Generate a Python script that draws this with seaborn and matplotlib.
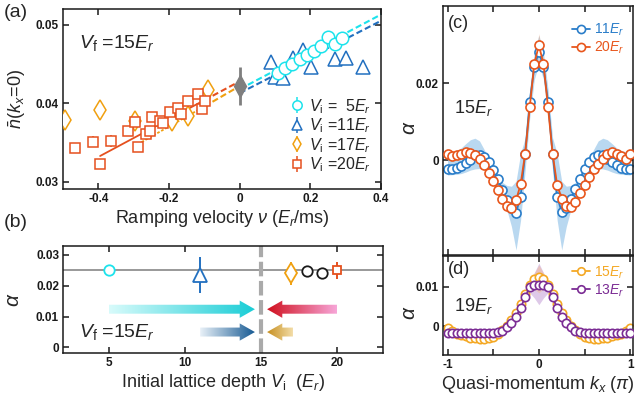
import numpy as np
import pandas as pd
import seaborn as sns
import matplotlib
matplotlib.use("Agg")
import matplotlib.pyplot as plt
from matplotlib.patches import Polygon
from matplotlib.colors import LinearSegmentedColormap

# ---------------- data ----------------
# (a) occupation at k=0 vs ramping velocity
v5 = [0.109, 0.127, 0.149, 0.170, 0.190, 0.210, 0.231, 0.250, 0.270, 0.290]
n5 = [0.0439, 0.0445, 0.0450, 0.0457, 0.0462, 0.0467, 0.0473, 0.0484, 0.0475, 0.0483]
e5 = [0.0002] * 10
v11 = [0.090, 0.099, 0.123, 0.151, 0.179, 0.201, 0.269, 0.302, 0.349]
n11 = [0.0453, 0.0434, 0.0432, 0.0458, 0.0468, 0.0446, 0.0457, 0.0458, 0.0446]
e11 = [0.0003] * 9
v17 = [-0.494, -0.395, -0.296, -0.193, -0.146, -0.089]
n17 = [0.0379, 0.0391, 0.0377, 0.0378, 0.0384, 0.0417]
e17 = [0.0003] * 6
v20 = [-0.466, -0.414, -0.395, -0.365, -0.315, -0.295, -0.287, -0.266, -0.254, -0.247,
       -0.226, -0.216, -0.198, -0.176, -0.167, -0.146, -0.118, -0.108, -0.097]
n20 = [0.0343, 0.0351, 0.0323, 0.0352, 0.0365, 0.0376, 0.0344, 0.0361, 0.0365, 0.0383,
       0.0378, 0.0375, 0.0389, 0.0394, 0.0386, 0.0403, 0.0412, 0.0393, 0.0403]
e20 = [0.0003, 0.0007, 0.0006, 0.0008, 0.0003, 0.0003, 0.0003, 0.0003, 0.0003, 0.0003,
       0.0003, 0.0003, 0.0003, 0.0003, 0.0003, 0.0003, 0.0003, 0.0003, 0.0003]
v_zero, n_zero, e_zero = [0.0], [0.0422], [0.0024]

# fitted lines (solid part, dashed extrapolation)
fit20_v, fit20_n = [-0.395, -0.10], [0.0333, 0.0404]
fit20d_v, fit20d_n = [-0.10, 0.0], [0.0404, 0.0428]
fit17_v, fit17_n = [-0.30, -0.10], [0.0345, 0.0396]
fit17d_v, fit17d_n = [-0.10, 0.0], [0.0396, 0.0422]
fit5_v, fit5_n = [0.0, 0.40], [0.0418, 0.0513]
fit11_v, fit11_n = [0.0, 0.40], [0.0413, 0.0505]

# (b) alpha vs initial lattice depth
vi_cyan, a_cyan = [5], [0.0250]
vi_tri, a_tri, ea_tri = [11], [0.0236], [0.0058]
vi_dia, a_dia, ea_dia = [17], [0.0240], [0.0038]
vi_blk, a_blk = [18, 19], [0.0248, 0.0240]
vi_sq, a_sq, ea_sq = [20], [0.0250], [0.0028]
alpha_ref = 0.025
v_final = 15
arrow_from = [5.0, 20.0, 11.0, 17.1]
arrow_to = [14.6, 15.4, 14.6, 15.4]
arrow_y = [0.0124, 0.0124, 0.0050, 0.0050]
arrow_tail = ["#D8FBFB", "#F7A6D8", "#E9F1F8", "#F3DDA8"]
arrow_head = ["#19CDD6", "#D0101E", "#175A93", "#C68E1E"]

# (c) alpha(k) at 15 Er
k = np.round(np.arange(-1.0, 1.0001, 0.05), 2)
a_c20 = [0.0017, 0.0010, 0.0014, 0.0017, 0.0020, 0.0018, 0.0012, 0.0002, -0.0014, -0.0033,
         -0.0055, -0.0078, -0.0100, -0.0120, -0.0124, -0.0105, -0.0063, 0.0017, 0.0138, 0.0251,
         0.0299,
         0.0251, 0.0138, 0.0017, -0.0065, -0.0100, -0.0119, -0.0123, -0.0108, -0.0085, -0.0065,
         -0.0043, -0.0024, -0.0009, 0.0004, 0.0015, 0.0020, 0.0017, 0.0011, 0.0004, 0.0017]
a_c11 = [-0.0022, -0.0023, -0.0021, -0.0015, -0.0007, 0.0001, 0.0012, 0.0013, 0.0008, -0.0006,
         -0.0025, -0.0050, -0.0077, -0.0103, -0.0125, -0.0137, -0.0095, 0.0017, 0.0152, 0.0243,
         0.0282,
         0.0243, 0.0152, 0.0017, -0.0095, -0.0135, -0.0125, -0.0100, -0.0075, -0.0048, -0.0024,
         -0.0006, 0.0009, 0.0013, 0.0012, 0.0002, -0.0006, -0.0014, -0.0020, -0.0023, -0.0022]
band_c11_lo = [-0.0039, -0.0038, -0.0037, -0.0035, -0.0031, -0.0026, -0.0023, -0.0022, -0.0024, -0.0032,
               -0.0048, -0.0069, -0.0095, -0.0130, -0.0173, -0.0234, -0.0156, -0.0026, 0.0110, 0.0210,
               0.0250,
               0.0210, 0.0110, -0.0026, -0.0156, -0.0234, -0.0173, -0.0130, -0.0095, -0.0069, -0.0048,
               -0.0032, -0.0024, -0.0022, -0.0023, -0.0026, -0.0031, -0.0035, -0.0037, -0.0038, -0.0039]
band_c11_hi = [0.0020, 0.0022, 0.0025, 0.0032, 0.0043, 0.0053, 0.0057, 0.0050, 0.0028, 0.0004,
               -0.0017, -0.0039, -0.0058, -0.0066, -0.0068, -0.0055, 0.0017, 0.0058, 0.0185, 0.0280,
               0.0325,
               0.0280, 0.0185, 0.0058, 0.0017, -0.0055, -0.0068, -0.0066, -0.0058, -0.0039, -0.0017,
               0.0004, 0.0028, 0.0050, 0.0057, 0.0053, 0.0043, 0.0032, 0.0025, 0.0022, 0.0020]
err_c20 = [0.0005] * 15 + [0.0008, 0.0006, 0.0005, 0.0008, 0.0012, 0.0030, 0.0012, 0.0008, 0.0005,
                           0.0006, 0.0008] + [0.0005] * 15

# (d) alpha(k) at 19 Er
a_d15 = [-0.0005, -0.0012, -0.0018, -0.0022, -0.0025, -0.0028, -0.0030, -0.0031, -0.0031, -0.0030,
         -0.0027, -0.0020, -0.0010, 0.0002, 0.0016, 0.0034, 0.0058, 0.0083, 0.0105, 0.0120,
         0.0125,
         0.0120, 0.0105, 0.0083, 0.0058, 0.0034, 0.0016, 0.0002, -0.0010, -0.0020, -0.0027,
         -0.0030, -0.0031, -0.0031, -0.0030, -0.0028, -0.0025, -0.0022, -0.0018, -0.0012, -0.0005]
a_d13 = [-0.0016, -0.0016, -0.0017, -0.0017, -0.0017, -0.0017, -0.0017, -0.0017, -0.0016, -0.0016,
         -0.0016, -0.0015, -0.0011, -0.0002, 0.0010, 0.0025, 0.0047, 0.0074, 0.0100, 0.0104,
         0.0104,
         0.0104, 0.0100, 0.0074, 0.0047, 0.0025, 0.0010, -0.0002, -0.0011, -0.0015, -0.0016,
         -0.0016, -0.0016, -0.0017, -0.0017, -0.0017, -0.0017, -0.0017, -0.0017, -0.0016, -0.0016]
k_band_d = [-0.15, -0.10, -0.05, 0.0, 0.05, 0.10, 0.15]
band_d13_lo = [0.0074, 0.0085, 0.0072, 0.0055, 0.0072, 0.0085, 0.0074]
band_d13_hi = [0.0074, 0.0112, 0.0136, 0.0160, 0.0136, 0.0112, 0.0074]
band_d15_lo = [0.0083, 0.0100, 0.0095, 0.0085, 0.0095, 0.0100, 0.0083]
band_d15_hi = [0.0083, 0.0112, 0.0135, 0.0155, 0.0135, 0.0112, 0.0083]

# ---------------- styling ----------------
sns.set_theme(style="ticks")
plt.rcParams["font.family"] = ["Liberation Sans", "DejaVu Sans"]
plt.rcParams["mathtext.fontset"] = "custom"
plt.rcParams["mathtext.rm"] = "Liberation Sans"
plt.rcParams["mathtext.it"] = "Liberation Sans:italic"
plt.rcParams["mathtext.bf"] = "Liberation Sans:bold"
plt.rcParams["axes.linewidth"] = 1.1
plt.rcParams["axes.edgecolor"] = "#1a1a1a"

C_CYAN, C_BLUE, C_YEL, C_RED, C_GRAY = "#1CE3EC", "#2270C0", "#F0A010", "#E5501E", "#7f7f7f"
C_C11, C_C20 = "#2A7DC9", "#E8561C"
C_D15, C_D13 = "#F4A824", "#7B2C94"
TICK_KW = dict(fontweight="bold", fontsize=8.5)
LAB_FS = 13


def style_ax(ax):
    ax.tick_params(direction="in", top=True, right=True, length=4, width=1.1,
                   colors="#1a1a1a", pad=3)


def grad_arrow(ax, x0, x1, y, c0, c1, body=0.00145, head=0.0028, head_len=1.0):
    d = np.sign(x1 - x0)
    xb = x1 - d * head_len
    verts = [(x0, y - body), (xb, y - body), (xb, y - head), (x1, y),
             (xb, y + head), (xb, y + body), (x0, y + body)]
    poly = Polygon(verts, closed=True, facecolor="none", edgecolor="none")
    ax.add_patch(poly)
    cmap = LinearSegmentedColormap.from_list("g", [c0, c1])
    im = ax.imshow(np.linspace(0, 1, 256).reshape(1, -1), cmap=cmap, aspect="auto",
                   extent=[x0, x1, y - head, y + head], origin="lower", zorder=2)
    im.set_clip_path(poly)


fig = plt.figure(figsize=(6.36, 4.04), dpi=100)

# ---------------- (a) ----------------
ax = fig.add_axes([0.0991, 0.5322, 0.5, 0.4455])
style_ax(ax)
sns.lineplot(x=fit11_v, y=fit11_n, ax=ax, color=C_BLUE, lw=1.5, dashes=(3, 1.5), zorder=1)
sns.lineplot(x=fit5_v, y=fit5_n, ax=ax, color=C_CYAN, lw=1.5, dashes=(3, 1.5), zorder=1)
sns.lineplot(x=fit17_v, y=fit17_n, ax=ax, color=C_YEL, lw=1.3, dashes=(1.5, 1), zorder=1)
sns.lineplot(x=fit17d_v, y=fit17d_n, ax=ax, color=C_YEL, lw=1.5, dashes=(3, 1.5), zorder=1)
sns.lineplot(x=fit20_v, y=fit20_n, ax=ax, color=C_RED, lw=1.3, zorder=1)
sns.lineplot(x=fit20d_v, y=fit20d_n, ax=ax, color=C_RED, lw=1.5, dashes=(3, 1.5), zorder=1)
mk = dict(mfc="white", mew=1.1, capsize=0, elinewidth=1.1, ls="none")
ax.errorbar(v_zero, n_zero, yerr=e_zero, fmt="d", color=C_GRAY, ms=11, mfc=C_GRAY,
            elinewidth=2, zorder=4)
h11 = ax.errorbar(v11, n11, yerr=e11, fmt="^", color=C_BLUE, ms=10, zorder=3, **mk)
h5 = ax.errorbar(v5, n5, yerr=e5, fmt="o", color=C_CYAN, ms=9, zorder=3, **mk)
h17 = ax.errorbar(v17, n17, yerr=e17, fmt="d", color=C_YEL, ms=10, zorder=3, **mk)
h20 = ax.errorbar(v20, n20, yerr=e20, fmt="s", color=C_RED, ms=7.5, zorder=3, **mk)
ax.set_xlim(-0.5, 0.4)
ax.set_ylim(0.0291, 0.0520)
ax.set_xticks([-0.4, -0.2, 0, 0.2, 0.4], ["-0.4", "-0.2", "0", "0.2", "0.4"], **TICK_KW)
ax.set_yticks([0.03, 0.04, 0.05], ["0.03", "0.04", "0.05"], **TICK_KW)
ax.set_xlabel(r"Ramping velocity $\nu$ ($E_r$/ms)", fontsize=LAB_FS, labelpad=2)
ax.set_ylabel(r"$\bar{n}(k_x\!=\!0)$", fontsize=LAB_FS)
ax.yaxis.set_label_coords(-0.11, 0.5)
ax.text(0.05, 0.81, r"$V_{\rm f}$ =15$E_r$", transform=ax.transAxes, fontsize=14,
        va="center")
leg = ax.legend([h5, h11, h17, h20],
                [r"$V_{\rm i}$ =  5$E_r$", r"$V_{\rm i}$ =11$E_r$",
                 r"$V_{\rm i}$ =17$E_r$", r"$V_{\rm i}$ =20$E_r$"],
                loc="lower right", bbox_to_anchor=(1.0, 0.03), frameon=False,
                fontsize=11.5, handlelength=0.8, handletextpad=0.4, labelspacing=0.05,
                markerscale=0.75, borderaxespad=0.2)
fig.text(0.006, 0.968, "(a)", fontsize=14, va="center")

# ---------------- (b) ----------------
ax = fig.add_axes([0.0995, 0.1262, 0.5022, 0.2649])
style_ax(ax)
ax.axhline(alpha_ref, color="#888888", lw=1.2, zorder=1)
ax.axvline(v_final, color="#AAAAAA", lw=3, dashes=(3.5, 1.1), zorder=1)
for x0, x1, y, c0, c1 in zip(arrow_from, arrow_to, arrow_y, arrow_tail, arrow_head):
    grad_arrow(ax, x0, x1, y, c0, c1)
ax.errorbar(vi_cyan, a_cyan, fmt="o", color=C_CYAN, ms=7.5, mfc="white", mew=1.3, zorder=3)
ax.errorbar(vi_tri, a_tri, yerr=ea_tri, fmt="^", color=C_BLUE, ms=10, mfc="white", mew=1.3,
            elinewidth=1.4, zorder=3)
ax.errorbar(vi_dia, a_dia, yerr=ea_dia, fmt="d", color=C_YEL, ms=10, mfc="white", mew=1.3,
            elinewidth=1.4, zorder=3)
ax.errorbar(vi_blk, a_blk, fmt="o", color="#1a1a1a", ms=7.5, mfc="white", mew=1.3, ls="none",
            zorder=3)
ax.errorbar(vi_sq, a_sq, yerr=ea_sq, fmt="s", color=C_RED, ms=6, mfc="white", mew=1.3,
            elinewidth=1.4, zorder=3)
ax.set_xlim(2, 23)
ax.set_ylim(-0.0018, 0.0329)
ax.set_xticks([5, 10, 15, 20], ["5", "10", "15", "20"], **TICK_KW)
ax.set_yticks([0, 0.01, 0.02, 0.03], ["0", "0.01", "0.02", "0.03"], **TICK_KW)
ax.set_xlabel(r"Initial lattice depth $V_{\rm i}$  ($E_r$)", fontsize=LAB_FS, labelpad=2)
ax.set_ylabel(r"$\alpha$", fontsize=15)
ax.yaxis.set_label_coords(-0.125, 0.5)
ax.text(0.05, 0.196, r"$V_{\rm f}$ =15$E_r$", transform=ax.transAxes, fontsize=14,
        va="center")
fig.text(0.006, 0.45, "(b)", fontsize=14, va="center")

# ---------------- (c) ----------------
ax = fig.add_axes([0.6965, 0.3688, 0.2987, 0.6163])
style_ax(ax)
ax.fill_between(k, band_c11_lo, band_c11_hi, color="#9CC8EA", alpha=0.7, lw=0, zorder=1)
ax.fill_between(k, np.array(a_c20) - np.array(err_c20), np.array(a_c20) + np.array(err_c20),
                color="#F5A57A", alpha=0.4, lw=0, zorder=1)
line_kw = dict(marker="o", markersize=6.5, markerfacecolor="white", markeredgewidth=1.2, lw=1.3)
sns.lineplot(x=k, y=a_c11, ax=ax, color=C_C11, markeredgecolor=C_C11, label=r"11$E_r$",
             zorder=2, **line_kw)
sns.lineplot(x=k, y=a_c20, ax=ax, color=C_C20, markeredgecolor=C_C20, label=r"20$E_r$",
             zorder=3, **line_kw)
ax.set_xlim(-1.05, 1.03)
ax.set_ylim(-0.0247, 0.0401)
ax.set_xticks([-1, -0.5, 0, 0.5, 1], [""] * 5)
ax.set_yticks([0, 0.02], ["0", "0.02"], **TICK_KW)
ax.set_xlabel("")
ax.set_ylabel(r"$\alpha$", fontsize=15)
ax.yaxis.set_label_coords(-0.125, 0.51)
ax.legend(loc="upper right", bbox_to_anchor=(1.0, 0.97), frameon=False, fontsize=10,
          handlelength=1.3, handletextpad=0.3, labelspacing=0.1, labelcolor="linecolor",
          markerscale=0.9, borderaxespad=0.2)
ax.text(0.06, 0.59, r"15$E_r$", transform=ax.transAxes, fontsize=13, va="center")
ax.text(0.025, 0.93, "(c)", transform=ax.transAxes, fontsize=13, va="center")

# ---------------- (d) ----------------
ax = fig.add_axes([0.6965, 0.1213, 0.2987, 0.245])
style_ax(ax)
ax.fill_between(k_band_d, band_d13_lo, band_d13_hi, color="#C9A6DA", alpha=0.6, lw=0, zorder=1)
ax.fill_between(k_band_d, band_d15_lo, band_d15_hi, color="#F3B98A", alpha=0.45, lw=0, zorder=1)
line_kw = dict(marker="o", markersize=6, markerfacecolor="white", markeredgewidth=1.2, lw=1.3)
sns.lineplot(x=k, y=a_d15, ax=ax, color=C_D15, markeredgecolor=C_D15, label=r"15$E_r$",
             zorder=2, **line_kw)
sns.lineplot(x=k, y=a_d13, ax=ax, color=C_D13, markeredgecolor=C_D13, label=r"13$E_r$",
             zorder=3, **line_kw)
ax.set_xlim(-1.05, 1.03)
ax.set_ylim(-0.0072, 0.0178)
ax.set_xticks([-1, -0.5, 0, 0.5, 1], ["-1", "", "0", "", "1"], **TICK_KW)
ax.set_yticks([0, 0.01], ["0", "0.01"], **TICK_KW)
ax.set_xlabel(r"Quasi-momentum $k_x$ ($\pi$)", fontsize=LAB_FS, labelpad=2)
ax.set_ylabel(r"$\alpha$", fontsize=15)
ax.yaxis.set_label_coords(-0.125, 0.43)
ax.legend(loc="upper right", bbox_to_anchor=(1.0, 1.0), frameon=False, fontsize=10,
          handlelength=1.3, handletextpad=0.3, labelspacing=0.1, labelcolor="linecolor",
          markerscale=0.9, borderaxespad=0.2)
ax.text(0.06, 0.5, r"19$E_r$", transform=ax.transAxes, fontsize=13, va="center")
ax.text(0.025, 0.86, "(d)", transform=ax.transAxes, fontsize=13, va="center")

fig.savefig("out.png", dpi=100)
